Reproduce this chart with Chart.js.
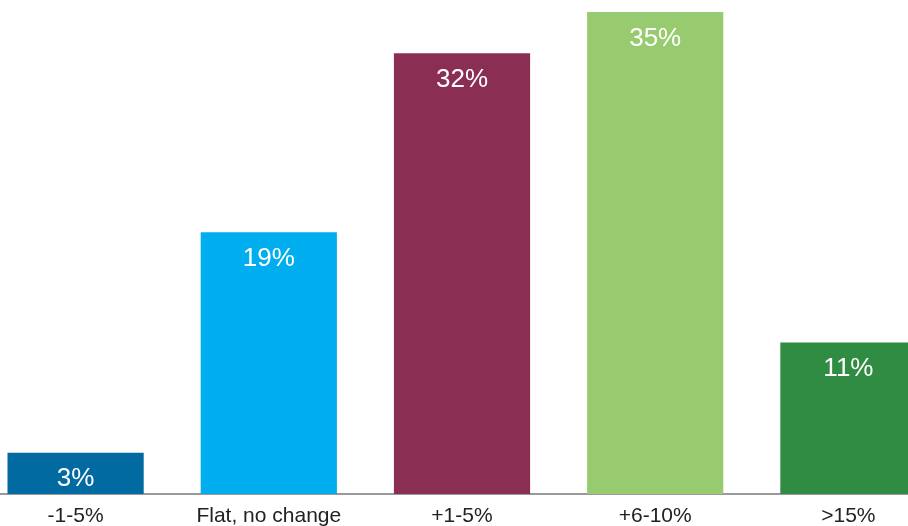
<!DOCTYPE html>
<html>
<head>
<meta charset="utf-8">
<script src="https://cdn.jsdelivr.net/npm/chart.js@4/dist/chart.umd.min.js"></script>
<style>
  html, body { margin: 0; padding: 0; background: #fff; overflow: hidden; width: 908px; height: 526px; }
  #wrap { position: absolute; left: -21px; top: 0; width: 966px; height: 526px; }
</style>
</head>
<body>
<div id="wrap"><canvas id="chart"></canvas></div>
<script>
const categories = ['-1-5%', 'Flat, no change', '+1-5%', '+6-10%', '>15%'];
const shares = [3, 19, 32, 35, 11];
const barColors = ['#006aa1', '#00aeef', '#8a2f53', '#98cb6f', '#308c43'];

// Writes each bar's percentage in white just under its top edge
const valueLabels = {
  id: 'valueLabels',
  afterDatasetsDraw(chart) {
    const ctx = chart.ctx;
    const meta = chart.getDatasetMeta(0);
    ctx.save();
    ctx.fillStyle = '#ffffff';
    ctx.font = '26px "Liberation Sans", Arial, sans-serif';
    ctx.textAlign = 'center';
    ctx.textBaseline = 'middle';
    meta.data.forEach((bar, i) => {
      ctx.fillText(shares[i] + '%', bar.x, bar.y + 26.5);
    });
    ctx.restore();
  }
};

new Chart(document.getElementById('chart'), {
  type: 'bar',
  data: {
    labels: categories,
    datasets: [{
      data: shares,
      backgroundColor: barColors,
      borderWidth: 0,
      barPercentage: 0.705,
      categoryPercentage: 1
    }]
  },
  options: {
    responsive: true,
    maintainAspectRatio: false,
    animation: false,
    layout: { padding: { top: 12, bottom: 0, left: 0, right: 0 } },
    plugins: { legend: { display: false }, tooltip: { enabled: false } },
    scales: {
      x: {
        afterFit(scale) { scale.height = 32; },
        grid: { display: false, drawTicks: false },
        border: { display: true, color: '#9a9a9a', width: 2 },
        ticks: {
          color: '#222222',
          padding: 10,
          maxRotation: 0,
          autoSkip: false,
          font: { family: '"Liberation Sans Narrow", "Arial Narrow", sans-serif', size: 21 }
        }
      },
      y: {
        display: false,
        min: 0,
        max: 35
      }
    }
  },
  plugins: [valueLabels]
});
</script>
</body>
</html>
